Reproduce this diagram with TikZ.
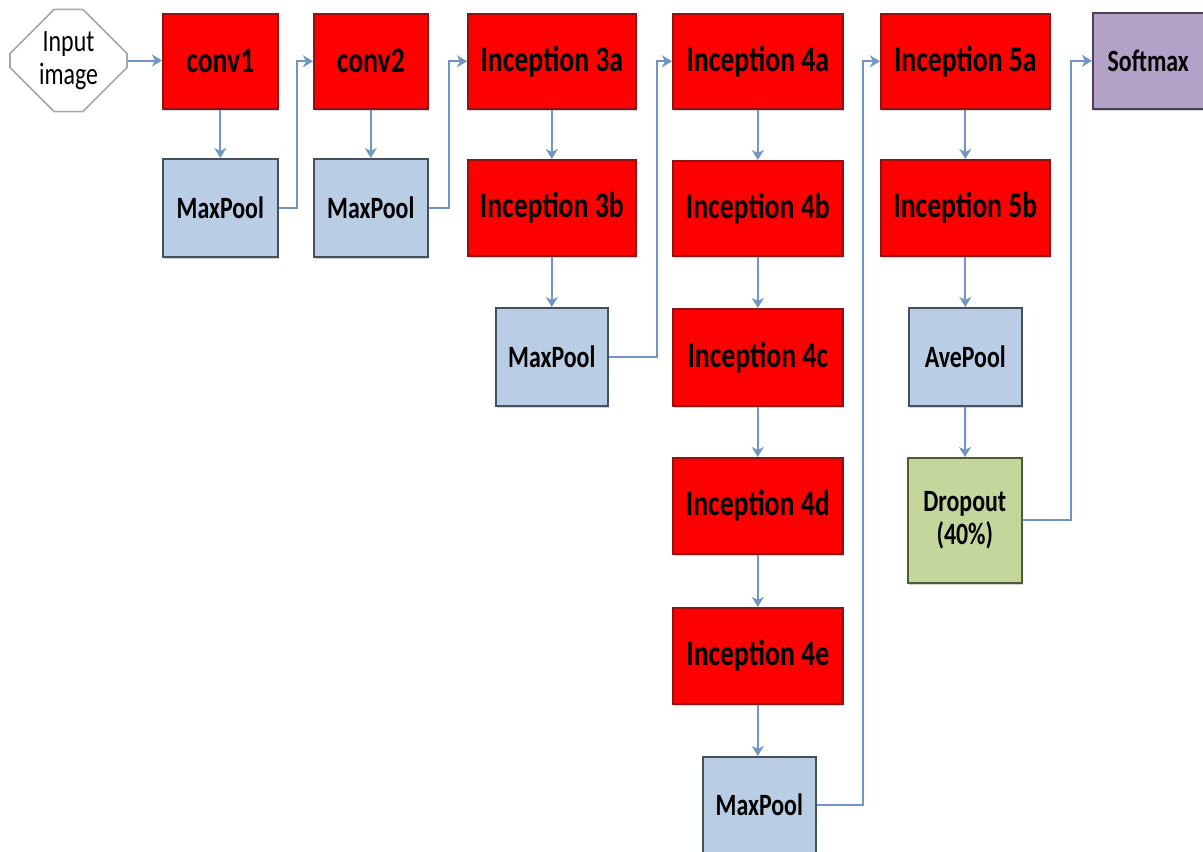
\documentclass[tikz,border=0pt]{standalone}
\usepackage{fontspec}
\setmainfont{Carlito}[FakeStretch=0.77]
\usetikzlibrary{arrows.meta,shapes.misc,shadows}

\definecolor{layerred}{HTML}{FF0000}
\definecolor{layerredline}{HTML}{8E1414}
\definecolor{poolfill}{HTML}{B9CDE5}
\definecolor{poolline}{HTML}{46505C}
\definecolor{dropfill}{HTML}{C3D69B}
\definecolor{dropline}{HTML}{4F5E2E}
\definecolor{softfill}{HTML}{B3A2C7}
\definecolor{softline}{HTML}{4A4058}
\definecolor{linkblue}{HTML}{7196C4}
\definecolor{inputline}{HTML}{A6A6A6}

\tikzset{
  block/.style={rectangle, anchor=north west, inner sep=0pt, align=center,
    line width=1.6pt, text=black,
    drop shadow={shadow xshift=1.5pt, shadow yshift=-2pt, opacity=0.35}},
  inception/.style={block, fill=layerred, draw=layerredline,
    font=\fontsize{36}{38}\selectfont\bfseries},
  pool/.style={block, fill=poolfill, draw=poolline,
    font=\fontsize{31}{33}\selectfont\bfseries},
  dropbox/.style={block, fill=dropfill, draw=dropline,
    font=\fontsize{31}{33}\selectfont\bfseries},
  softbox/.style={block, fill=softfill, draw=softline,
    font=\fontsize{31}{33}\selectfont\bfseries},
  inputbox/.style={chamfered rectangle, chamfered rectangle xsep=22pt,
    chamfered rectangle ysep=22pt, draw=inputline, fill=white, line width=1.6pt,
    inner sep=0pt, minimum width=117pt, minimum height=97pt, align=center,
    font=\fontsize{31}{33}\selectfont},
  link/.style={draw=linkblue, line width=2pt,
    -{Stealth[length=10pt,width=12pt,inset=3pt]}}
}

\begin{document}
\begin{tikzpicture}[x=1pt,y=-1pt]
\useasboundingbox (0,0) rectangle (1203,852);

% input
\node[inputbox] (input) at (68.5,60.5) {Input\\image};

% stem
\node[inception, minimum width=115pt, minimum height=95pt] (conv1) at (162,13) {conv1};
\node[pool, minimum width=115pt, minimum height=98pt] (mp1) at (162,158) {MaxPool};
\node[inception, minimum width=114pt, minimum height=95pt] (conv2) at (313,13) {conv2};
\node[pool, minimum width=114pt, minimum height=98pt] (mp2) at (313,158) {MaxPool};

% stage 3
\node[inception, minimum width=168pt, minimum height=95pt] (i3a) at (467,13) {Inception 3a};
\node[inception, minimum width=168pt, minimum height=96pt] (i3b) at (467,159) {Inception 3b};
\node[pool, minimum width=112pt, minimum height=98pt] (mp3) at (495,307) {MaxPool};

% stage 4
\node[inception, minimum width=170pt, minimum height=95pt] (i4a) at (672,13) {Inception 4a};
\node[inception, minimum width=170pt, minimum height=95pt] (i4b) at (672,160) {Inception 4b};
\node[inception, minimum width=170pt, minimum height=97pt] (i4c) at (672,308) {Inception 4c};
\node[inception, minimum width=170pt, minimum height=96pt] (i4d) at (672,457) {Inception 4d};
\node[inception, minimum width=170pt, minimum height=96pt] (i4e) at (672,607) {Inception 4e};
\node[pool, minimum width=113pt, minimum height=96pt] (mp4) at (702,756) {MaxPool};

% stage 5 and head
\node[inception, minimum width=169pt, minimum height=95pt] (i5a) at (880,13) {Inception 5a};
\node[inception, minimum width=169pt, minimum height=96pt] (i5b) at (880,159) {Inception 5b};
\node[pool, minimum width=113pt, minimum height=98pt] (ave) at (908,307) {AvePool};
\node[dropbox, minimum width=114pt, minimum height=125pt] (drop) at (907,457) {Dropout\\(40\%)};
\node[softbox, minimum width=125pt, minimum height=96pt] (soft) at (1092,12) {\hspace*{-14pt}Softmax};

% connectors
\draw[link] (input.east) -- (input.east -| conv1.west);
\draw[link] (conv1) -- (mp1);
\draw[link] (mp1.east) -- ++(18,0) |- (conv2.west);
\draw[link] (conv2) -- (mp2);
\draw[link] (mp2.east) -- ++(20,0) |- (i3a.west);
\draw[link] (i3a) -- (i3b);
\draw[link] (i3b) -- (mp3);
\draw[link] (mp3.east) -- ++(48,0) |- (i4a.west);
\draw[link] (i4a) -- (i4b);
\draw[link] (i4b) -- (i4c);
\draw[link] (i4c) -- (i4d);
\draw[link] (i4d) -- (i4e);
\draw[link] (i4e.south) -- (i4e.south |- mp4.north);
\draw[link] (mp4.east) -- ++(46,0) |- (i5a.west);
\draw[link] (i5a) -- (i5b);
\draw[link] (i5b) -- (ave);
\draw[link] (ave) -- (drop);
\draw[link] (drop.east) -- ++(48,0) |- (soft.west);
\end{tikzpicture}
\end{document}
